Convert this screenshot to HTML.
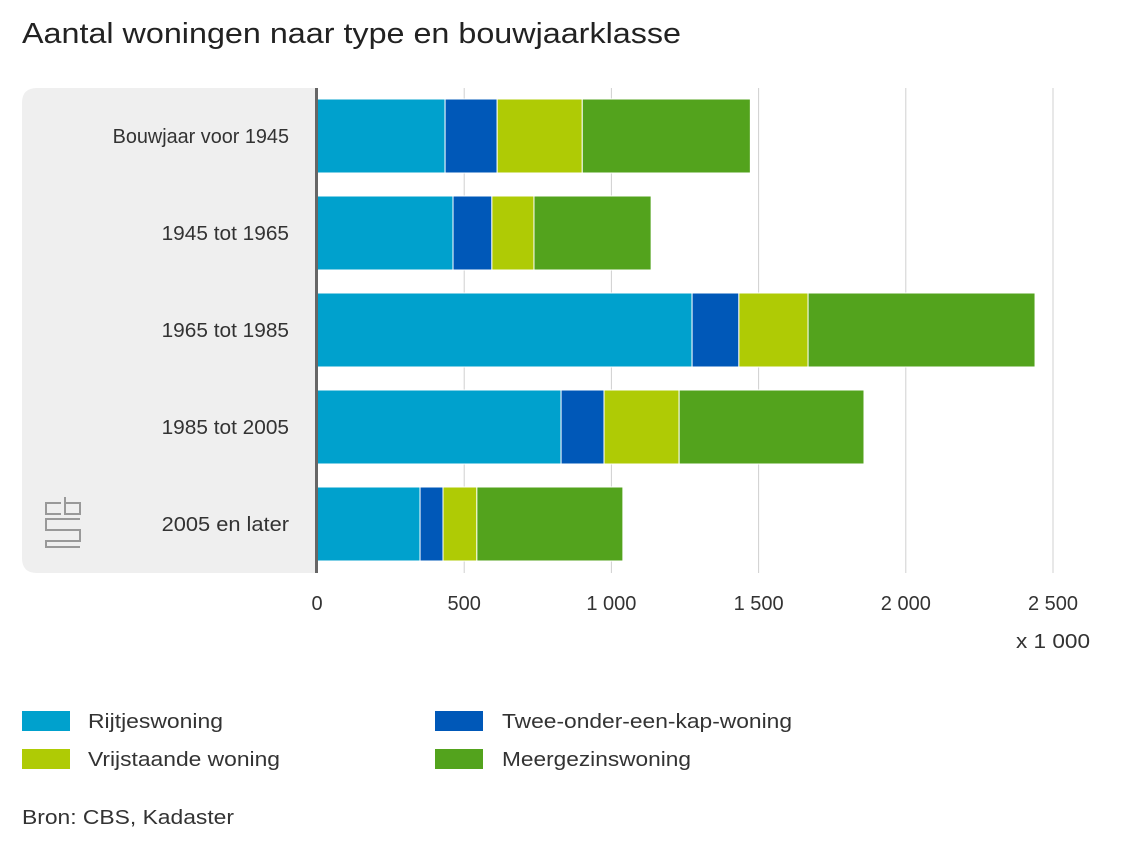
<!DOCTYPE html>
<html><head><meta charset="utf-8"><style>
body{margin:0;background:#fff;font-family:"Liberation Sans",sans-serif;}
svg text{font-family:"Liberation Sans",sans-serif;}
</style></head><body>
<svg width="1140" height="857" xmlns="http://www.w3.org/2000/svg">
<text x="22" y="43" font-size="29" fill="#222" textLength="659" lengthAdjust="spacingAndGlyphs">Aantal woningen naar type en bouwjaarklasse</text>
<path d="M317 88 H37 Q22 88 22 103 V558 Q22 573 37 573 H317 Z" fill="#efefef"/>
<g fill="none" stroke="#999" stroke-width="2">
<path d="M61 503 H46 V514 H61"/>
<path d="M65 497 V514 H80 V503 H65"/>
<path d="M80 519 H46 V530 H80 V541 H46 V547 H80"/>
</g>
<g id="grid"></g>
<g id="bars"></g>
<g id="labels"></g>
<rect x="315" y="88" width="3" height="485" fill="#666"/>
<g id="ticks"></g>
<text x="1016" y="648" font-size="20" fill="#333" textLength="74" lengthAdjust="spacingAndGlyphs">x 1 000</text>
<g>
<rect x="22" y="711" width="48" height="20" fill="#00a1cd"/>
<text x="88" y="728" font-size="20" fill="#333" textLength="135" lengthAdjust="spacingAndGlyphs">Rijtjeswoning</text>
<rect x="435" y="711" width="48" height="20" fill="#0058b8"/>
<text x="502" y="728" font-size="20" fill="#333" textLength="290" lengthAdjust="spacingAndGlyphs">Twee-onder-een-kap-woning</text>
<rect x="22" y="749" width="48" height="20" fill="#afcb05"/>
<text x="88" y="766" font-size="20" fill="#333" textLength="192" lengthAdjust="spacingAndGlyphs">Vrijstaande woning</text>
<rect x="435" y="749" width="48" height="20" fill="#53a31d"/>
<text x="502" y="766" font-size="20" fill="#333" textLength="189" lengthAdjust="spacingAndGlyphs">Meergezinswoning</text>
</g>
<text x="22" y="824" font-size="20" fill="#333" textLength="212" lengthAdjust="spacingAndGlyphs">Bron: CBS, Kadaster</text>
</svg>
<script>
const categories=["Bouwjaar voor 1945","1945 tot 1965","1965 tot 1985","1985 tot 2005","2005 en later"];
const rijtjes=[435,462,1274,829,350];
const tweeOnder=[177,132,159,146,78];
const vrijstaand=[289,143,235,255,115];
const meergezins=[571,398,771,628,496];
const ticks=[0,500,1000,1500,2000,2500];
const tickLabels=["0","500","1 000","1 500","2 000","2 500"];
const NS="http://www.w3.org/2000/svg";
const x0=317,scale=147.2/500;
function xs(v){return x0+v*scale;}
const rowTop=99,rowStep=97,barH=74;
function ys(i){return rowTop+i*rowStep;}
function labelWidth(c){return c.length*9.8;}
const series=[[rijtjes,"#00a1cd","rijtjeswoning"],[tweeOnder,"#0058b8","twee-onder-een-kap"],[vrijstaand,"#afcb05","vrijstaande"],[meergezins,"#53a31d","meergezinswoning"]];
const grid=document.getElementById('grid'),bars=document.getElementById('bars'),labels=document.getElementById('labels'),tk=document.getElementById('ticks');
ticks.forEach((t,i)=>{
 if(t>0){const l=document.createElementNS(NS,'line');
 l.setAttribute('x1',xs(t));l.setAttribute('x2',xs(t));l.setAttribute('y1',88);l.setAttribute('y2',573);
 l.setAttribute('stroke','#d0d0d0');l.setAttribute('stroke-width','1');
 
 
 grid.appendChild(l);}
 const tx=document.createElementNS(NS,'text');
 tx.setAttribute('x',xs(t));tx.setAttribute('y',610);tx.setAttribute('font-size','20');tx.setAttribute('fill','#333');tx.setAttribute('text-anchor','middle');
 tx.textContent=tickLabels[i];
 
 
 tk.appendChild(tx);
});
categories.forEach((c,i)=>{
 let acc=0;
 series.forEach(([arr,col,nm])=>{
  const r=document.createElementNS(NS,'rect');
  r.setAttribute('x',xs(acc));r.setAttribute('width',Math.max(0,xs(acc+arr[i])-xs(acc)));
  r.setAttribute('y',ys(i));r.setAttribute('height',barH);r.setAttribute('fill',col);
  r.setAttribute('stroke','#fff');r.setAttribute('stroke-width','1');
  
  
  bars.appendChild(r);acc+=arr[i];
 });
 const t=document.createElementNS(NS,'text');
 t.setAttribute('x',289);t.setAttribute('y',ys(i)+barH/2+7);t.setAttribute('font-size','20');t.setAttribute('fill','#333');t.setAttribute('text-anchor','end');
 t.setAttribute('textLength',labelWidth(c));t.setAttribute('lengthAdjust','spacingAndGlyphs');
 t.textContent=c;
 
 
 labels.appendChild(t);
});
</script>
</body></html>
